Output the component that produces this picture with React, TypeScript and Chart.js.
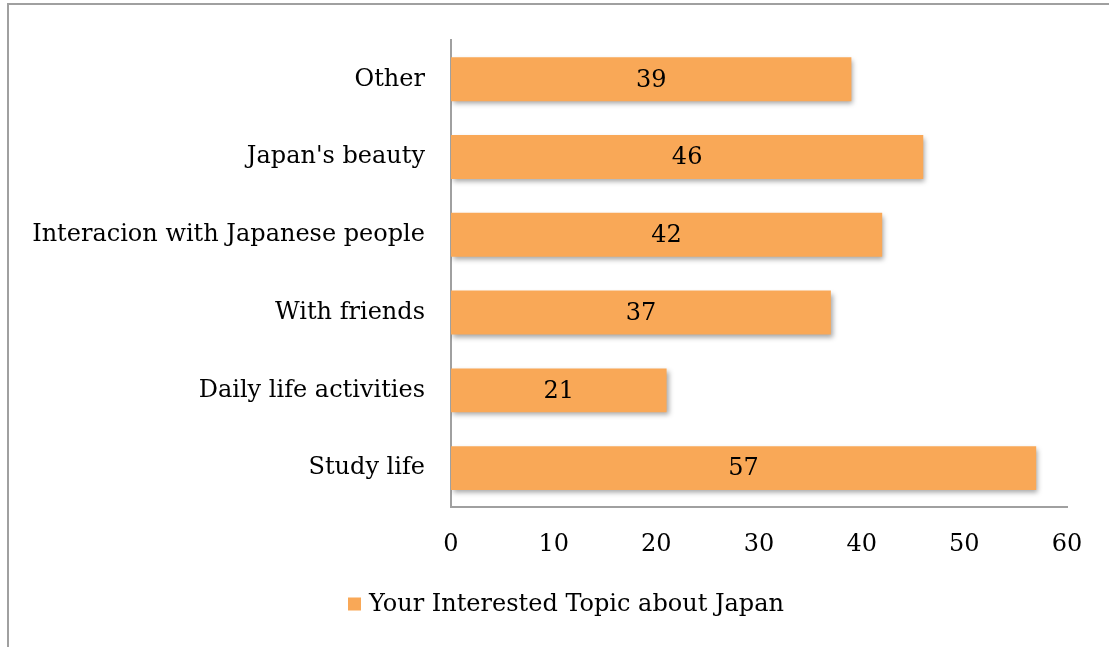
import React, { useEffect, useRef } from "react";
import { Chart, registerables } from "chart.js";

Chart.register(...registerables);

const categories = [
  "Other",
  "Japan's beauty",
  "Interacion with Japanese people",
  "With friends",
  "Daily life activities",
  "Study life",
];
const values = [39, 46, 42, 37, 21, 57];
const seriesName = "Your Interested Topic about Japan";
const xMin = 0;
const xMax = 60;
const xStep = 10;

const FONT = "'DejaVu Serif', 'Liberation Serif', serif";
const FONT_SIZE = 24;
const BAR_COLOR = "#F9A857";
const AXIS_COLOR = "#A0A0A0";

const shadowPlugin = {
  id: "barShadow",
  beforeDatasetsDraw(chart: any) {
    const ctx = chart.ctx;
    ctx.save();
    ctx.shadowColor = "rgba(0,0,0,0.35)";
    ctx.shadowBlur = 5;
    ctx.shadowOffsetX = 2;
    ctx.shadowOffsetY = 3;
  },
  afterDatasetsDraw(chart: any) {
    chart.ctx.restore();
  },
};

const labelPlugin = {
  id: "barLabels",
  afterDatasetsDraw(chart: any) {
    const ctx = chart.ctx;
    const meta = chart.getDatasetMeta(0);
    const data = chart.data.datasets[0].data as number[];
    ctx.save();
    ctx.shadowColor = "transparent";
    ctx.font = `${FONT_SIZE}px ${FONT}`;
    ctx.fillStyle = "#000";
    ctx.textAlign = "center";
    ctx.textBaseline = "middle";
    meta.data.forEach((bar: any, i: number) => {
      const cx = (bar.x + bar.base) / 2;
      ctx.fillText(String(data[i]), cx, bar.y + 1);
    });
    ctx.restore();
  },
};

// Legend drawn manually so it can be centred like the reference
const legendPlugin = {
  id: "customLegend",
  afterDraw(chart: any) {
    const ctx = chart.ctx;
    const ds = chart.data.datasets[0];
    ctx.save();
    ctx.font = `${FONT_SIZE}px ${FONT}`;
    const tw = ctx.measureText(ds.label).width;
    const box = 13;
    const gap = 8;
    const total = box + gap + tw;
    const centerX = 566;
    const centerY = 605;
    const x0 = centerX - total / 2;
    ctx.fillStyle = ds.backgroundColor;
    ctx.fillRect(x0, centerY - box / 2 - 1, box, box);
    ctx.fillStyle = "#000";
    ctx.textAlign = "left";
    ctx.textBaseline = "middle";
    ctx.fillText(ds.label, x0 + box + gap, centerY);
    ctx.restore();
  },
};

export default function App() {
  const ref = useRef<HTMLCanvasElement | null>(null);

  useEffect(() => {
    if (!ref.current) return;
    const chart = new Chart(ref.current, {
      type: "bar",
      data: {
        labels: categories,
        datasets: [
          {
            label: seriesName,
            data: values,
            backgroundColor: BAR_COLOR,
            borderWidth: 0,
            barPercentage: 0.565,
            categoryPercentage: 1,
          },
        ],
      },
      options: {
        indexAxis: "y",
        responsive: false,
        animation: false,
        layout: { padding: { left: 0, top: 39, right: 42, bottom: 0 } },
        plugins: {
          tooltip: { enabled: false },
          legend: { display: false },
        },
        scales: {
          x: {
            min: xMin,
            max: xMax,
            grid: { display: false, drawTicks: false },
            border: { display: true, color: AXIS_COLOR, width: 2 },
            ticks: {
              stepSize: xStep,
              padding: 23,
              color: "#000",
              font: { family: FONT, size: FONT_SIZE },
            },
            afterFit(scale: any) {
              scale.height = 140;
            },
          },
          y: {
            grid: { display: false, drawTicks: false },
            border: { display: true, color: AXIS_COLOR, width: 2 },
            ticks: {
              padding: 26,
              color: "#000",
              font: { family: FONT, size: FONT_SIZE },
            },
            afterFit(scale: any) {
              scale.width = 451;
            },
          },
        },
      },
      plugins: [shadowPlugin, labelPlugin, legendPlugin],
    });
    return () => chart.destroy();
  }, []);

  return (
    <div
      style={{
        position: "fixed",
        left: 0,
        top: 0,
        width: 1109,
        height: 647,
        background: "#fff",
        overflow: "hidden",
      }}
    >
      <div
        style={{
          position: "absolute",
          left: 7,
          top: 3,
          width: 1300,
          height: 900,
          border: "2px solid #A0A0A0",
        }}
      />
      <canvas
        ref={ref}
        width={1109}
        height={647}
        style={{ position: "absolute", left: 0, top: 0 }}
      />
    </div>
  );
}
